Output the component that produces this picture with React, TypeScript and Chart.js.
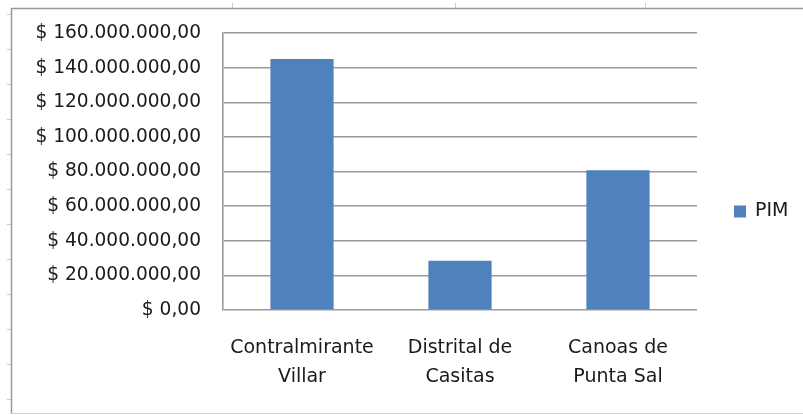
import React, { useEffect, useRef } from "react";
import { Chart, registerables } from "chart.js";

Chart.register(...registerables);

const categories: string[][] = [
  ["Contralmirante", "Villar"],
  ["Distrital de", "Casitas"],
  ["Canoas de", "Punta Sal"],
];
const seriesName = "PIM";
const pimValues: number[] = [145100000, 28400000, 80700000];
const yMin = 0;
const yMax = 160000000;
const yStep = 20000000;

function formatPeso(v: number): string {
  const fixed = Math.abs(v).toFixed(2);
  const [intPart, dec] = fixed.split(".");
  const withDots = intPart.replace(/\B(?=(\d{3})+(?!\d))/g, ".");
  return "$ " + withDots + "," + dec;
}

const framePlugin = {
  id: "frame",
  beforeDraw(chart: any) {
    const ctx = chart.ctx;
    const w = chart.width;
    const h = chart.height;
    ctx.save();
    ctx.fillStyle = "#ffffff";
    ctx.fillRect(0, 0, w, h);
    // faint spreadsheet tick marks
    ctx.strokeStyle = "#c5cddb";
    ctx.lineWidth = 1;
    for (let y = 14; y < h; y += 35) {
      ctx.beginPath();
      ctx.moveTo(7, y + 0.5);
      ctx.lineTo(11, y + 0.5);
      ctx.stroke();
    }
    [232, 455, 645].forEach((x) => {
      ctx.beginPath();
      ctx.moveTo(x + 0.5, 3);
      ctx.lineTo(x + 0.5, 8);
      ctx.stroke();
    });
    // outer chart border
    ctx.strokeStyle = "#9a9a9a";
    ctx.lineWidth = 1.5;
    ctx.beginPath();
    ctx.moveTo(w, 8.5);
    ctx.lineTo(11.5, 8.5);
    ctx.lineTo(11.5, 413.5);
    ctx.stroke();
    ctx.strokeStyle = "#d0d0d0";
    ctx.lineWidth = 1;
    ctx.beginPath();
    ctx.moveTo(11.5, 413.5);
    ctx.lineTo(w, 413.5);
    ctx.stroke();
    ctx.restore();
  },
};

const legendPlugin = {
  id: "sideLegend",
  afterDraw(chart: any) {
    const ctx = chart.ctx;
    const area = chart.chartArea;
    const ds = chart.data.datasets[0];
    const x = area.right + 37;
    const cy = chart.height / 2 + 4;
    ctx.save();
    ctx.fillStyle = ds.backgroundColor;
    ctx.fillRect(x, cy - 6, 12, 12);
    ctx.fillStyle = "#1a1a1a";
    ctx.font = "19px 'DejaVu Sans'";
    ctx.textBaseline = "middle";
    ctx.textAlign = "left";
    ctx.fillText(ds.label, x + 21, cy);
    ctx.restore();
  },
};

export default function App() {
  const canvasRef = useRef<HTMLCanvasElement | null>(null);

  useEffect(() => {
    document.body.style.margin = "0";
    const canvas = canvasRef.current;
    if (!canvas) return;
    const chart = new Chart(canvas, {
      type: "bar",
      data: {
        labels: categories,
        datasets: [
          {
            label: seriesName,
            data: pimValues,
            backgroundColor: "#4f81bd",
            borderWidth: 0,
            barPercentage: 0.4,
            categoryPercentage: 1,
          },
        ],
      },
      options: {
        animation: false,
        responsive: false,
        devicePixelRatio: 1,
        layout: { padding: { top: 32, right: 106, bottom: 0, left: 0 } },
        plugins: {
          legend: { display: false },
          tooltip: { enabled: false },
        },
        scales: {
          x: {
            grid: { display: false, drawTicks: false },
            border: { display: false },
            ticks: {
              color: "#1a1a1a",
              padding: 24,
              maxRotation: 0,
              autoSkip: false,
              font: { family: "'DejaVu Sans'", size: 19, lineHeight: 1.5 },
            },
            afterFit: (s: any) => {
              s.height = 105;
            },
          },
          y: {
            min: yMin,
            max: yMax,
            grid: { color: "#999999", lineWidth: 1.6, drawTicks: false },
            border: { display: true, color: "#999999", width: 1.6 },
            ticks: {
              stepSize: yStep,
              color: "#1a1a1a",
              padding: 22,
              font: { family: "'DejaVu Sans'", size: 18.6 },
              callback: (v: any) => formatPeso(Number(v)),
            },
            afterFit: (s: any) => {
              s.width = 223;
            },
          },
        },
      },
      plugins: [framePlugin, legendPlugin],
    });
    return () => chart.destroy();
  }, []);

  return (
    <div style={{ position: "fixed", left: 0, top: 0, width: 803, height: 415 }}>
      <canvas ref={canvasRef} width={803} height={415} />
    </div>
  );
}
